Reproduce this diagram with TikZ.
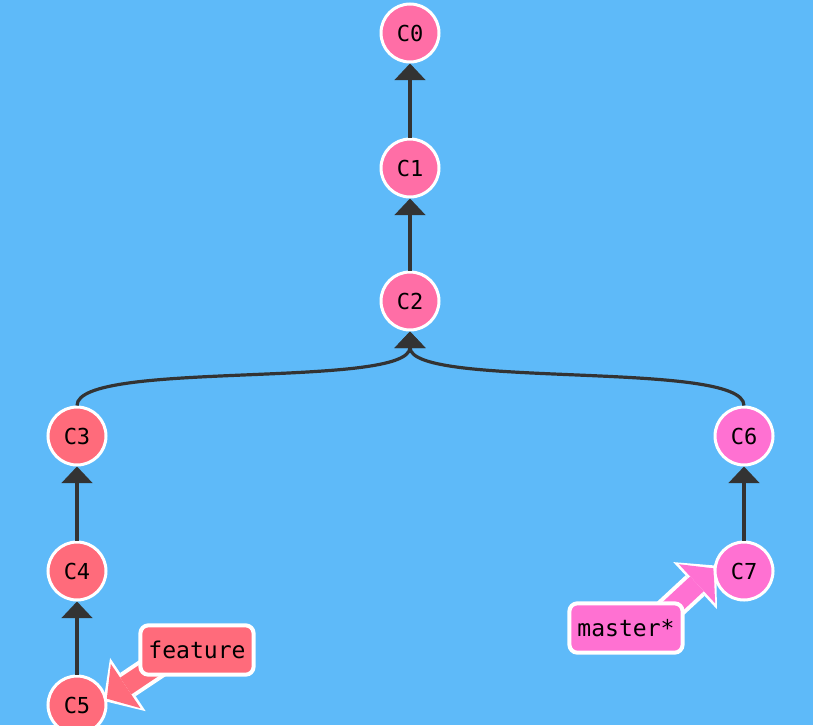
\documentclass[tikz,border=0pt]{standalone}
\usepackage{fontspec}
\setmonofont{DejaVu Sans Mono}
\usetikzlibrary{arrows.meta}
\definecolor{bgblue}{HTML}{5EBAF9}
\definecolor{commitpink}{HTML}{FF6EA6}
\definecolor{featred}{HTML}{FF6B7B}
\definecolor{mastermag}{HTML}{FF71D2}
\definecolor{edgegray}{HTML}{333333}
\pgfdeclarelayer{bg}
\pgfdeclarelayer{ptr}
\pgfsetlayers{bg,ptr,main}
\tikzstyle{commit}=[circle, draw=white, line width=2.25pt, minimum size=43.5pt, inner sep=0pt, font=\ttfamily\fontsize{16.5}{18}\selectfont]
\tikzstyle{branch}=[rectangle, rounded corners=6pt, draw=white, line width=3pt, minimum height=37pt, inner xsep=6pt, font=\ttfamily\fontsize{17.3}{19}\selectfont]
\tikzstyle{parentedge}=[draw=edgegray, line width=2.4pt, -{Triangle[length=12.5pt,width=23pt]}]
\tikzstyle{branchptr}=[line width=15pt, -{Triangle[length=17pt,width=40pt,line width'=0pt]}, preaction={draw=white, line width=21pt, shorten >=-3pt, -{Triangle[length=22pt,width=48pt,line width'=0pt]}}]

\begin{document}
\begin{tikzpicture}[x=0.75pt,y=-0.75pt]
			\begin{pgfonlayer}{bg}
			\fill[bgblue] (0,0) rectangle (813,725);
			\end{pgfonlayer}
			\useasboundingbox (0,0) rectangle (813,725);
			
			\node[commit,fill=commitpink] (C0) at (410,33) {C0};
			\node[commit,fill=commitpink] (C1) at (410,168) {C1};
			\node[commit,fill=commitpink] (C2) at (410,301) {C2};
			\node[commit,fill=featred] (C3) at (77,436) {C3};
			\node[commit,fill=featred] (C4) at (77,571) {C4};
			\node[commit,fill=featred] (C5) at (77,705) {C5};
			\node[commit,fill=mastermag] (C6) at (744,436) {C6};
			\node[commit,fill=mastermag] (C7) at (744,571) {C7};
			
			\node[branch,fill=featred] (feature) at (197,650) {feature};
			\node[branch,fill=mastermag] (master) at (626,628) {master*};
			
			\draw[parentedge] (C1) -- (C0);
			\draw[parentedge] (C2) -- (C1);
			\draw[parentedge] (C4) -- (C3);
			\draw[parentedge] (C5) -- (C4);
			\draw[parentedge] (C7) -- (C6);
			\draw[parentedge] (C3.north) .. controls +(0,-46) and +(0,58) .. (C2.south);
			\draw[parentedge] (C6.north) .. controls +(0,-46) and +(0,58) .. (C2.south);
			
			\coordinate (featuretail) at (190,643);
			\coordinate (mastertail) at (645,632);
			\begin{pgfonlayer}{ptr}
			\draw[branchptr,featred] (featuretail) -- (C5.12);
			\draw[branchptr,mastermag] (mastertail) -- (C7.175);
			\end{pgfonlayer}
		\end{tikzpicture}
\end{document}
